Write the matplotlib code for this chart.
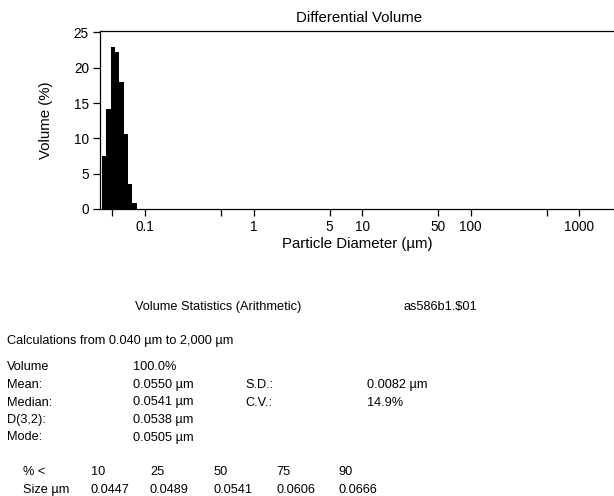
import matplotlib
matplotlib.use("Agg")
import matplotlib.pyplot as plt

plt.rcParams['font.family'] = ['Liberation Sans', 'DejaVu Sans']

# Differential volume histogram (LS-style log bins)
bin_edges = [0.040, 0.0439, 0.0481, 0.0527, 0.0578, 0.0634, 0.0695, 0.0762, 0.0836]
volume_pct = [7.5, 14.1, 22.9, 22.2, 18.0, 10.6, 3.6, 0.8]

x_ticks = [0.05, 0.1, 0.5, 1, 5, 10, 50, 100, 500, 1000]
x_tick_labels = ["", "0.1", "", "1", "5", "10", "50", "100", "", "1000"]
y_ticks = [0, 5, 10, 15, 20, 25]

# statistics block
stat_labels = ["Volume", "Mean:", "Median:", "D(3,2):", "Mode:"]
stat_values = ["100.0%", "0.0550 \u00b5m", "0.0541 \u00b5m", "0.0538 \u00b5m", "0.0505 \u00b5m"]
extra_labels = ["S.D.:", "C.V.:"]
extra_values = ["0.0082 \u00b5m", "14.9%"]
pct_under = ["10", "25", "50", "75", "90"]
size_um = ["0.0447", "0.0489", "0.0541", "0.0606", "0.0666"]

W, H = 614, 496
fig = plt.figure(figsize=(W / 100, H / 100), dpi=100)

# axes placed in pixel coords of the reference
ax = fig.add_axes([100 / W, 1 - 209 / H, (W - 100) / W, (209 - 31) / H])
widths = [bin_edges[i + 1] - bin_edges[i] for i in range(len(volume_pct))]
ax.bar(bin_edges[:-1], volume_pct, width=widths, align='edge', color='black', linewidth=0)

ax.set_xscale('log')
ax.set_xlim(0.0384, 2090)
ax.set_ylim(0, 25.2)
ax.set_xticks(x_ticks)
ax.set_xticklabels(x_tick_labels)
ax.minorticks_off()
ax.set_yticks(y_ticks)
ax.tick_params(axis='both', direction='out', length=5, width=0.9, labelsize=9.8, pad=3)
ax.spines['right'].set_visible(False)
for s in ['left', 'top', 'bottom']:
    ax.spines[s].set_linewidth(0.9)

ax.set_xlabel("Particle Diameter (\u00b5m)", fontsize=10.8, labelpad=2)
ax.set_ylabel("Volume (%)", fontsize=10.8, labelpad=15)
fig.text(359 / W, 1 - 18 / H, "Differential Volume", fontsize=10.8, ha='center', va='center')


def put(x, y, s):
    fig.text(x / W, 1 - y / H, s, fontsize=9.2, ha='left', va='center')


put(135, 307, "Volume Statistics (Arithmetic)")
put(403, 307, "as586b1.$01")
put(7, 341, "Calculations from 0.040 \u00b5m to 2,000 \u00b5m")

row_y = [367, 385, 402.5, 420, 437.5]
for y, lab, val in zip(row_y, stat_labels, stat_values):
    put(7, y, lab)
    put(133, y, val)
for y, lab, val in zip(row_y[1:3], extra_labels, extra_values):
    put(245, y, lab)
    put(367, y, val)

col_x = [90.7, 150, 213.3, 276.7, 338.3]
put(22.7, 472, "% <")
put(22.7, 490, "Size \u00b5m")
for x, p, s in zip(col_x, pct_under, size_um):
    put(x, 472, p)
    put(x, 490, s)

fig.savefig("out.png", dpi=100)
